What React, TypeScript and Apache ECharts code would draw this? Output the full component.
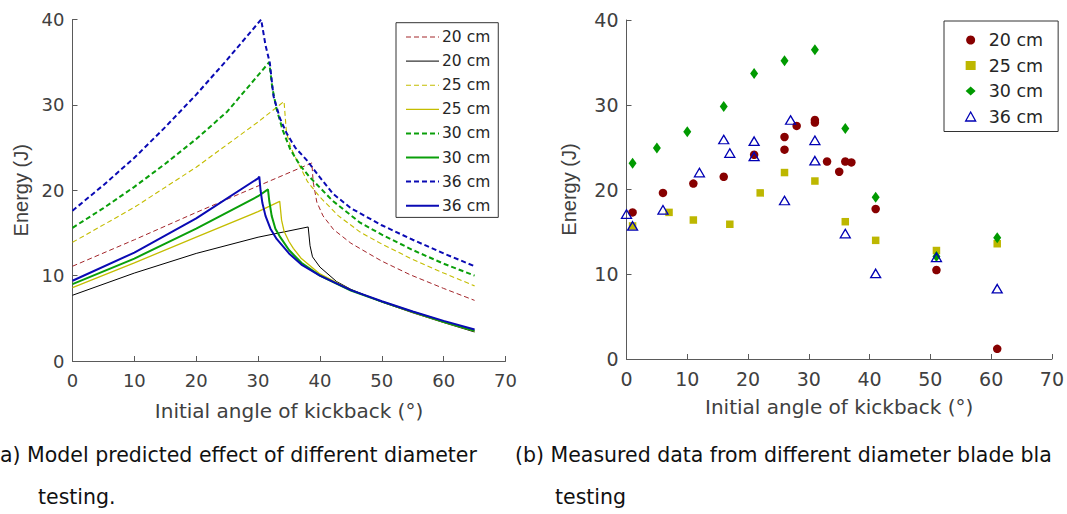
import React, { useEffect, useRef } from "react";
import * as echarts from "echarts";

// ---------- Model predictions (left panel): [angle (deg), energy (J)] ----------
const model20Dashed: [number, number][] = [
  [0, 11.1], [10, 14.2], [20, 17.4], [30, 20.5], [38.7, 23.2], [38.9, 21.0], [39.5, 18.6],
  [40.5, 17.0], [42.2, 15.4], [45, 13.8], [47.6, 12.7], [50, 11.7], [54.6, 10.1], [60, 8.5], [65, 7.1],
];
const model20Solid: [number, number][] = [
  [0, 7.7], [10, 10.3], [20, 12.6], [30, 14.5], [38.1, 15.7], [38.4, 13.5], [38.8, 12.2],
  [40, 11.0], [42.7, 9.3], [45, 8.4], [50, 6.9], [55, 5.65], [60, 4.5], [65, 3.4],
];
const model25Dashed: [number, number][] = [
  [0, 13.9], [10, 18.0], [20, 22.7], [30, 28.0], [34.2, 30.4], [34.4, 28.5], [34.6, 26.7],
  [35.3, 25.0], [36.2, 23.6], [38, 21.0], [40, 19.2], [43, 17.0], [46.5, 15.1], [50, 13.7],
  [55, 11.9], [60, 10.3], [65, 8.8],
];
const model25Solid: [number, number][] = [
  [0, 8.6], [10, 11.5], [20, 14.5], [30, 17.5], [33.5, 18.7], [33.8, 16.5], [34.2, 15.2],
  [35, 14.0], [35.7, 13.2], [37, 12.0], [40, 10.2], [45, 8.3], [50, 6.95], [55, 5.7], [60, 4.55], [65, 3.5],
];
const model30Dashed: [number, number][] = [
  [0, 15.6], [5, 17.9], [10, 20.4], [15, 23.1], [20, 26.0], [25, 29.2], [31.8, 35.0], [32.3, 32.0], [33, 29.5],
  [34, 27.0], [35.2, 24.8], [36.8, 22.9], [38.4, 21.5], [40, 20.3], [42, 18.8], [46.5, 16.2],
  [50, 14.8], [55, 13.0], [60, 11.4], [65, 10.0],
];
const model30Solid: [number, number][] = [
  [0, 9.0], [10, 12.0], [20, 15.5], [30, 19.3], [31.6, 20.1], [31.8, 18.8], [32.2, 17.0],
  [32.8, 15.5], [33.5, 14.6], [35, 13.0], [37, 11.5], [40, 10.0], [45, 8.25], [50, 6.95],
  [55, 5.75], [60, 4.6], [65, 3.55],
];
const model36Dashed: [number, number][] = [
  [0, 17.6], [5, 20.6], [10, 23.8], [15, 27.4], [20, 31.2], [25, 35.3], [30.5, 40.0],
  [31.2, 37.0], [31.9, 34.9], [32.5, 31.0], [33.5, 28.5], [34.6, 26.7], [36, 25.0],
  [37.9, 23.5], [40, 21.5], [42.1, 19.6], [45, 17.9], [50, 15.9], [55, 14.2], [60, 12.6], [65, 11.1],
];
const model36Solid: [number, number][] = [
  [0, 9.4], [10, 12.7], [20, 16.7], [30, 21.4], [30.2, 21.6], [30.4, 20.0], [30.7, 18.5],
  [31.2, 17.0], [32, 15.5], [33, 14.3], [35, 12.6], [37, 11.3], [40, 10.0], [45, 8.3],
  [50, 7.0], [55, 5.8], [60, 4.7], [65, 3.7],
];

// ---------- Measured data (right panel) ----------
const measured20: [number, number][] = [
  [1, 17.3], [6, 19.6], [11, 20.7], [16, 21.5], [21, 24.1], [26, 26.2], [26, 24.7], [28, 27.5],
  [31, 28.2], [31, 27.9], [33, 23.3], [35, 22.1], [36, 23.3], [37, 23.2], [41, 17.7], [51, 10.5], [61, 1.2],
];
const measured25: [number, number][] = [
  [1, 15.7], [7, 17.3], [11, 16.4], [17, 15.9], [22, 19.6], [26, 22.0], [31, 21.0], [36, 16.2],
  [41, 14.0], [51, 12.8], [61, 13.6],
];
const measured30: [number, number][] = [
  [1, 23.1], [5, 24.9], [10, 26.8], [16, 29.8], [21, 33.7], [26, 35.2], [31, 36.5], [36, 27.2],
  [41, 19.1], [51, 12.1], [61, 14.3],
];
const measured36: [number, number][] = [
  [0, 17.1], [1, 15.7], [6, 17.6], [12, 22.0], [16, 25.9], [17, 24.3], [21, 25.7], [21, 23.9],
  [26, 18.7], [27, 28.2], [31, 25.8], [31, 23.4], [36, 14.8], [41, 10.1], [51, 12.0], [61, 8.3],
];

const modelLegendNames = ["d20", "s20", "d25", "s25", "d30", "s30", "d36", "s36"];
const modelLegendLabels: Record<string, string> = {
  d20: "20 cm", s20: "20 cm", d25: "25 cm", s25: "25 cm",
  d30: "30 cm", s30: "30 cm", d36: "36 cm", s36: "36 cm",
};
const measuredNames = ["20 cm", "25 cm", "30 cm", "36 cm"];

const xName = "Initial angle of kickback (°)";
const yName = "Energy (J)";
const captionA1 = "(a) Model predicted effect of different diameter";
const captionA2 = "testing.";
const captionB1 = "(b) Measured data from different diameter blade bla";
const captionB2 = "testing";

const C_RED = "#a3262b";
const C_BLACK = "#000000";
const C_YEL = "#c4bd00";
const C_GRN = "#0a9f0a";
const C_BLU = "#0a0ab4";
const M_RED = "#870000";
const M_YEL = "#bdb700";
const M_GRN = "#009a00";
const M_BLU = "#0000b4";

const AXIS_COLOR = "#5a5a5a";
const LABEL_COLOR = "#404040";
const WIDE = "DejaVu Sans";

function xAxisCfg(gridIndex: number, fontSize: number, nameGap: number) {
  return {
    type: "value" as const,
    gridIndex,
    min: 0,
    max: 70,
    interval: 10,
    name: xName,
    nameLocation: "middle" as const,
    nameGap,
    nameTextStyle: { color: LABEL_COLOR, fontSize: 20, fontFamily: WIDE },
    axisLine: { show: true, onZero: false, lineStyle: { color: AXIS_COLOR, width: 1 } },
    axisTick: { show: true, inside: true, length: 5, lineStyle: { color: AXIS_COLOR } },
    axisLabel: { color: LABEL_COLOR, fontSize, fontFamily: WIDE, margin: 10 },
    splitLine: { show: false },
  };
}
function yAxisCfg(gridIndex: number, fontSize: number, nameGap: number) {
  return {
    type: "value" as const,
    gridIndex,
    min: 0,
    max: 40,
    interval: 10,
    name: yName,
    nameLocation: "middle" as const,
    nameGap,
    nameTextStyle: { color: LABEL_COLOR, fontSize: 20, fontFamily: "Liberation Sans" },
    axisLine: { show: true, onZero: false, lineStyle: { color: AXIS_COLOR, width: 1 } },
    axisTick: { show: true, inside: true, length: 5, lineStyle: { color: AXIS_COLOR } },
    axisLabel: { color: LABEL_COLOR, fontSize, fontFamily: WIDE, margin: 8 },
    splitLine: { show: false },
  };
}

function lineSeries(name: string, data: [number, number][], color: string, width: number, dashed: boolean) {
  return {
    type: "line" as const,
    name,
    xAxisIndex: 0,
    yAxisIndex: 0,
    data,
    symbol: "none",
    showSymbol: false,
    smooth: false,
    lineStyle: { color, width, type: dashed ? [5, 3] : "solid" },
    itemStyle: { color },
    z: 2,
  };
}

export default function App() {
  const ref = useRef<HTMLDivElement>(null);
  useEffect(() => {
    document.body.style.margin = "0";
    if (!ref.current) return;
    const chart = echarts.init(ref.current, null, { renderer: "svg" });
    const option: any = {
      animation: false,
      backgroundColor: "#ffffff",
      grid: [
        { left: 72.5, top: 19.5, width: 433, height: 341.5 },
        { left: 626.5, top: 20, width: 427, height: 339 },
      ],
      xAxis: [xAxisCfg(0, 18, 40), xAxisCfg(1, 19, 38)],
      yAxis: [yAxisCfg(0, 18, 42), yAxisCfg(1, 19, 48)],
      legend: [
        {
          data: modelLegendNames,
          formatter: (n: string) => modelLegendLabels[n] ?? n,
          orient: "vertical",
          left: 396,
          top: 22.7,
          padding: [6.3, 8, 3.7, 9],
          itemWidth: 33,
          itemHeight: 14,
          itemGap: 8.1,
          borderColor: "#333333",
          borderWidth: 1,
          selectedMode: false,
          itemStyle: { opacity: 0 },
          lineStyle: { width: "inherit", type: "inherit", color: "inherit" },
          textStyle: { color: "#262626", fontSize: 15.5, fontFamily: WIDE, padding: [0, 0, 0, -2] },
        },
        {
          data: [
            { name: measuredNames[0], icon: "circle" },
            { name: measuredNames[1], icon: "rect" },
            { name: measuredNames[2], icon: "diamond" },
            { name: measuredNames[3], icon: "triangle", itemStyle: { color: "#ffffff", borderColor: M_BLU, borderWidth: 1.3 } },
          ],
          orient: "vertical",
          left: 944,
          top: 21,
          padding: [10, 15, 6, 21],
          itemWidth: 10,
          itemHeight: 9,
          itemGap: 7.5,
          borderColor: "#333333",
          borderWidth: 1,
          selectedMode: false,
          textStyle: { color: "#262626", fontSize: 17.5, fontFamily: WIDE, padding: [0, 0, 0, 8] },
        },
      ],
      series: [
        lineSeries("d20", model20Dashed, C_RED, 1, true),
        lineSeries("s20", model20Solid, C_BLACK, 1, false),
        lineSeries("d25", model25Dashed, C_YEL, 1.1, true),
        lineSeries("s25", model25Solid, C_YEL, 1.3, false),
        lineSeries("d30", model30Dashed, C_GRN, 2, true),
        lineSeries("s30", model30Solid, C_GRN, 2, false),
        lineSeries("d36", model36Dashed, C_BLU, 2, true),
        lineSeries("s36", model36Solid, C_BLU, 2, false),
        {
          type: "scatter", name: measuredNames[0], xAxisIndex: 1, yAxisIndex: 1,
          data: measured20, symbol: "circle", symbolSize: 8.5, itemStyle: { color: M_RED, opacity: 1 },
        },
        {
          type: "scatter", name: measuredNames[1], xAxisIndex: 1, yAxisIndex: 1,
          data: measured25, symbol: "rect", symbolSize: 7.5, itemStyle: { color: M_YEL, opacity: 1 },
        },
        {
          type: "scatter", name: measuredNames[2], xAxisIndex: 1, yAxisIndex: 1,
          data: measured30, symbol: "diamond", symbolSize: [8, 11], itemStyle: { color: M_GRN, opacity: 1 },
        },
        {
          type: "scatter", name: measuredNames[3], xAxisIndex: 1, yAxisIndex: 1,
          data: measured36, symbol: "triangle", symbolSize: [10, 8.5],
          itemStyle: { color: "rgba(255,255,255,0)", borderColor: M_BLU, borderWidth: 1.3, opacity: 1 },
        },
      ],
      graphic: [
        { type: "text", x: -8, y: 455, style: { text: captionA1, fontSize: 20.5, fontFamily: WIDE, fill: "#111", verticalAlign: "middle" } },
        { type: "text", x: 38, y: 497, style: { text: captionA2, fontSize: 20.5, fontFamily: WIDE, fill: "#111", verticalAlign: "middle" } },
        { type: "text", x: 515, y: 455, style: { text: captionB1, fontSize: 20.5, fontFamily: WIDE, fill: "#111", verticalAlign: "middle" } },
        { type: "text", x: 555, y: 497, style: { text: captionB2, fontSize: 20.5, fontFamily: WIDE, fill: "#111", verticalAlign: "middle" } },
      ],
    };
    chart.setOption(option);
    return () => chart.dispose();
  }, []);
  return <div ref={ref} style={{ width: 1067, height: 514 }} />;
}
